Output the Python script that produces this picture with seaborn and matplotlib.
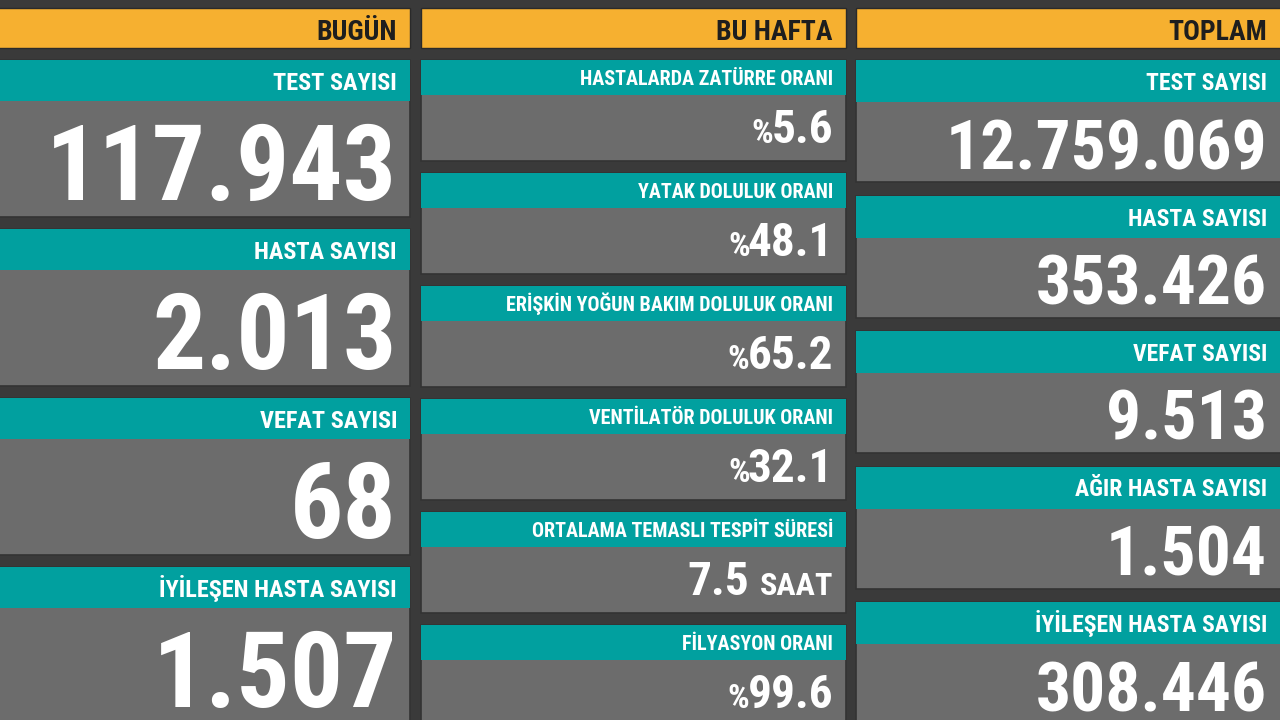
import matplotlib
matplotlib.use("Agg")
import matplotlib.pyplot as plt
import seaborn as sns
from matplotlib import font_manager
from matplotlib.patches import Rectangle

# Data
headers = ["BUGÜN", "BU HAFTA", "TOPLAM"]

bugun_labels = ["TEST SAYISI", "HASTA SAYISI", "VEFAT SAYISI", "İYİLEŞEN HASTA SAYISI"]
bugun_values = ["117.943", "2.013", "68", "1.507"]

hafta_labels = ["HASTALARDA ZATÜRRE ORANI", "YATAK DOLULUK ORANI",
                "ERİŞKİN YOĞUN BAKIM DOLULUK ORANI", "VENTİLATÖR DOLULUK ORANI",
                "ORTALAMA TEMASLI TESPİT SÜRESİ", "FİLYASYON ORANI"]
hafta_values = ["5.6", "48.1", "65.2", "32.1", "7.5", "99.6"]
hafta_prefix = ["%", "%", "%", "%", "", "%"]
hafta_suffix = ["", "", "", "", "SAAT", ""]

toplam_labels = ["TEST SAYISI", "HASTA SAYISI", "VEFAT SAYISI",
                 "AĞIR HASTA SAYISI", "İYİLEŞEN HASTA SAYISI"]
toplam_values = ["12.759.069", "353.426", "9.513", "1.504", "308.446"]

# colours
bg = "#3a3a3a"
orange = "#f6b030"
teal = "#01a09f"
gray = "#6c6c6c"

sns.set_theme(style="white")
installed = {f.name for f in font_manager.fontManager.ttflist}
family = next((f for f in ["Roboto Condensed", "Liberation Sans Narrow",
                           "DejaVu Sans Condensed", "Liberation Sans"] if f in installed), "DejaVu Sans")
plt.rcParams["font.family"] = [family, "DejaVu Sans"]

fig = plt.figure(figsize=(12.8, 7.2), dpi=100, facecolor=bg)
ax = fig.add_axes([0, 0, 1, 1])
ax.set_facecolor(bg)
ax.set_xlim(0, 1280)
ax.set_ylim(720, 0)
ax.axis("off")

# column geometry: left, right, card pitch, card height, teal height,
# label baseline offset, value baseline offset, label size, value size
cols = [
    dict(x0=-5, x1=410, pitch=169, h=157, th=41, lab=30, val=140, ls=17.5, vs=76),
    dict(x0=421, x1=846, pitch=113, h=101, th=35, lab=25, val=83, ls=14.5, vs=34),
    dict(x0=856, x1=1290, pitch=135.5, h=122, th=42, lab=30, val=109, ls=17, vs=50),
]
text_right = [397, 833, 1267]

renderer = fig.canvas.get_renderer()


def left_edge(t):
    bb = t.get_window_extent(renderer=renderer)
    return ax.transData.inverted().transform((bb.x0, bb.y0))[0]


for i, (c, head) in enumerate(zip(cols, headers)):
    ax.add_patch(Rectangle((c["x0"], 8), c["x1"] - c["x0"], 40, facecolor=orange,
                           edgecolor="#2a2a2a", lw=1))
    ax.text(text_right[i], 40, head, ha="right", va="baseline", fontsize=20,
            fontweight="bold", color="#1e1e1e")

card_sets = [
    (bugun_labels, bugun_values, [""] * 4, [""] * 4),
    (hafta_labels, hafta_values, hafta_prefix, hafta_suffix),
    (toplam_labels, toplam_values, [""] * 5, [""] * 5),
]

for i, (labels, values, prefixes, suffixes) in enumerate(card_sets):
    c = cols[i]
    xr = text_right[i]
    for k, (lab, val, pre, suf) in enumerate(zip(labels, values, prefixes, suffixes)):
        top = 60 + k * c["pitch"]
        ax.add_patch(Rectangle((c["x0"], top), c["x1"] - c["x0"], c["h"], facecolor=gray,
                               edgecolor="#333333", lw=1.2))
        ax.add_patch(Rectangle((c["x0"], top), c["x1"] - c["x0"], c["th"], facecolor=teal,
                               edgecolor="none"))
        ax.text(xr, top + c["lab"], lab, ha="right", va="baseline", fontsize=c["ls"],
                fontweight="bold", color="white")
        x = xr
        if suf:
            t = ax.text(x, top + c["val"], suf, ha="right", va="baseline",
                        fontsize=c["vs"] * 0.68, fontweight="bold", color="white")
            x = left_edge(t) - 10
        t = ax.text(x, top + c["val"], val, ha="right", va="baseline", fontsize=c["vs"],
                    fontweight="bold", color="white")
        if pre:
            x = left_edge(t) + 2
            ax.text(x, top + c["val"], pre, ha="right", va="baseline",
                    fontsize=c["vs"] * 0.72, fontweight="bold", color="white")

fig.savefig("out.png", dpi=100, facecolor=bg)
